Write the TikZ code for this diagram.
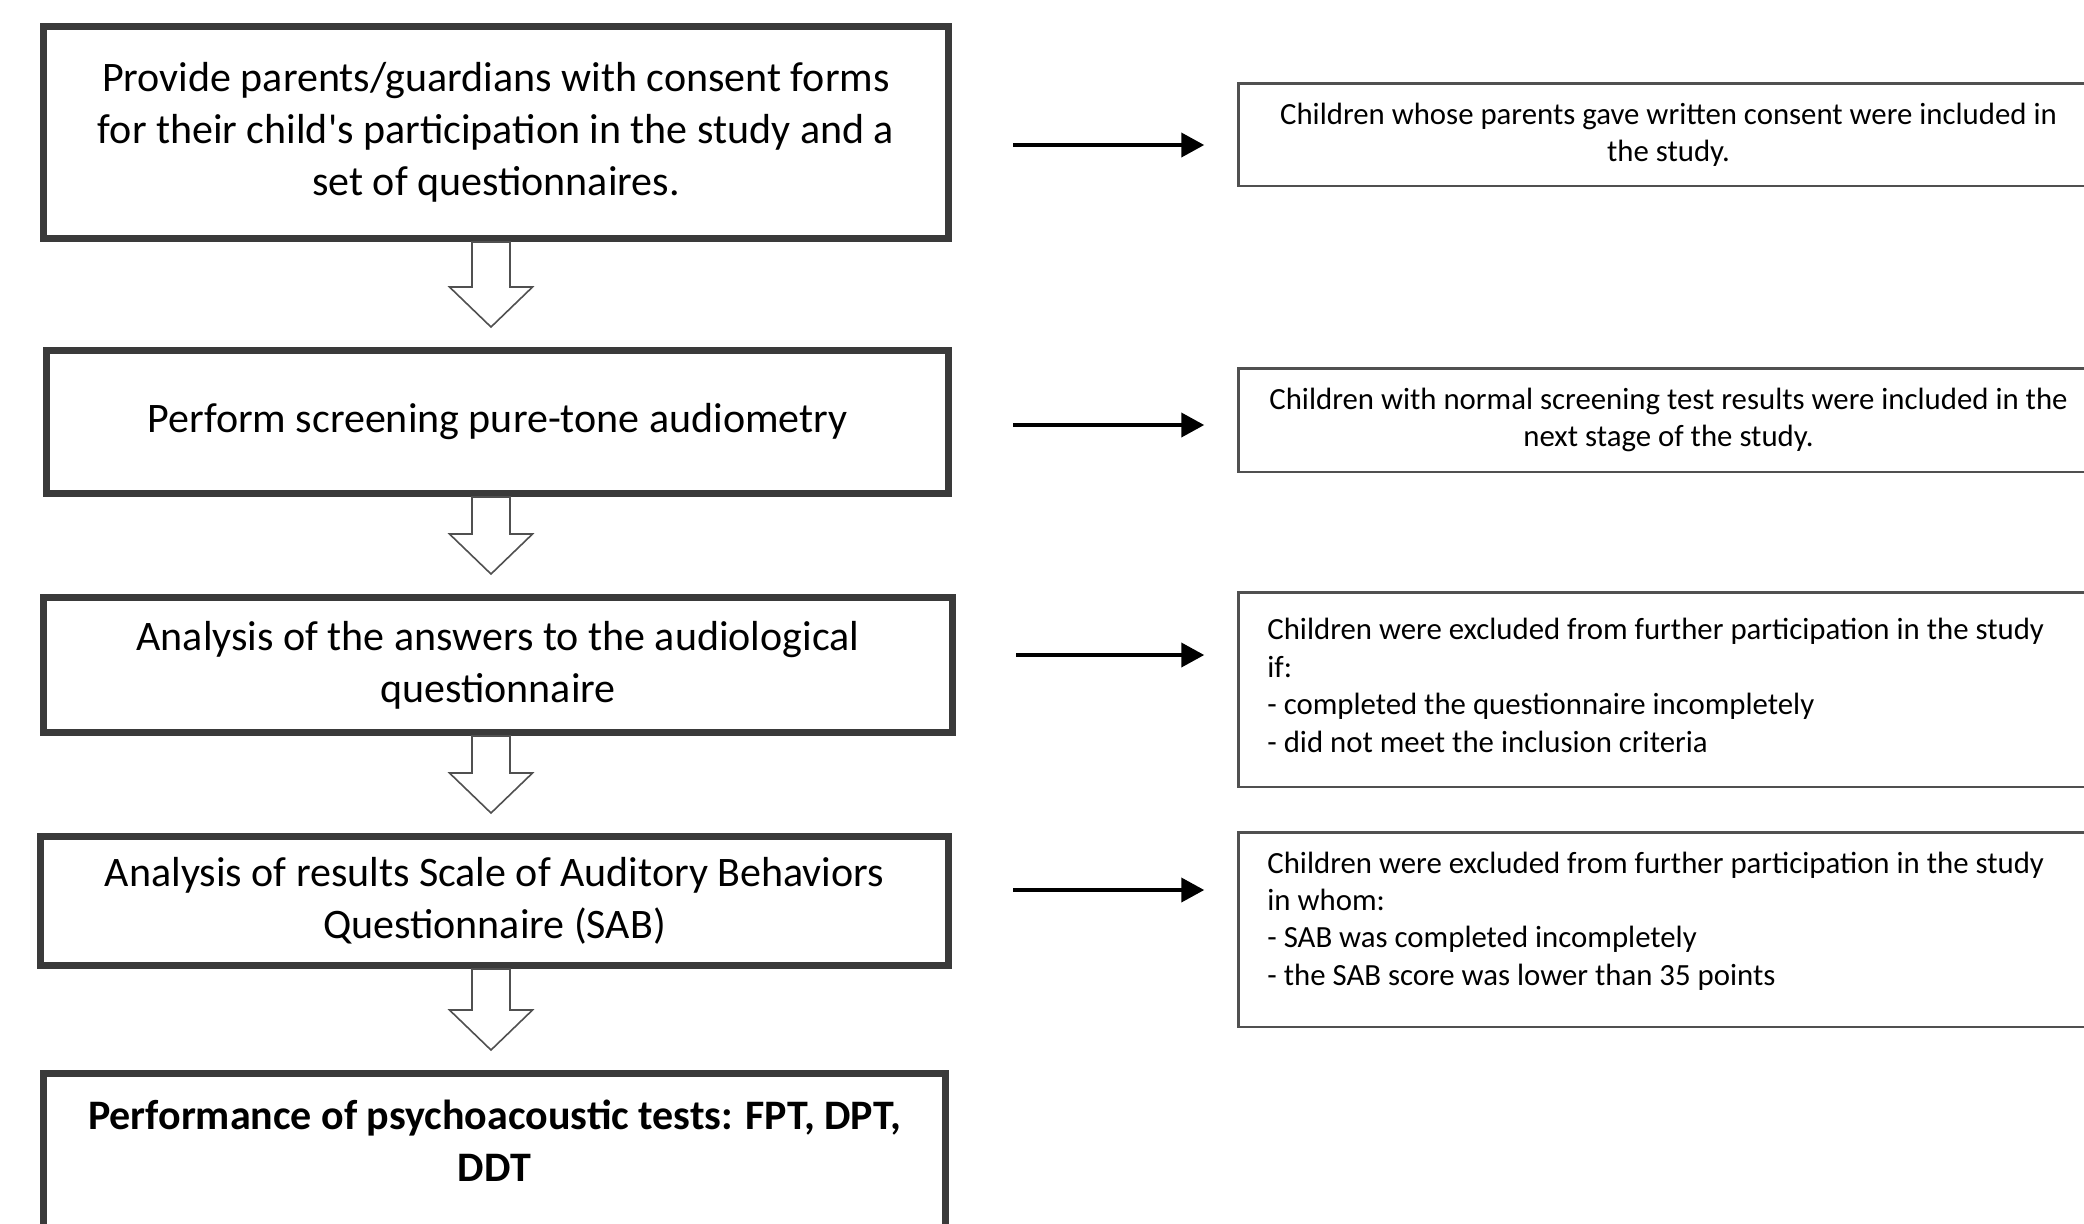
\documentclass[tikz,border=0pt]{standalone}
\usepackage{fontspec}
\setmainfont{Carlito}[Ligatures=TeXOff]
\usetikzlibrary{arrows.meta,calc}
\definecolor{boxgray}{HTML}{3A3A3A}
\definecolor{sidegray}{HTML}{505050}
\definecolor{arrowgray}{HTML}{505050}
\newcommand\flowdown[2]{%
  \path[blockarrow] let \p1=(#1.south), \p2=(#2.north), \n1={\y2+10pt}, \n2={\y2+30pt} in
    (236pt,\y1) -- (236pt,\n2) -- (224.75pt,\n2) -- (245.5pt,\n1) -- (266.25pt,\n2) -- (255pt,\n2) -- (255pt,\y1) -- cycle;}
\begin{document}
\begin{tikzpicture}[x=0.5pt,y=-0.5pt,
  mainbox/.style={draw=boxgray, line width=3.5pt, inner sep=0pt, align=center, font=\fontsize{21}{26}\selectfont},
  sidebox/.style={draw=sidegray, line width=1.25pt, inner sep=0pt, align=center, font=\fontsize{15.4}{18.5}\selectfont},
  sidetext/.style={inner sep=0pt, align=left, anchor=west, font=\fontsize{15.4}{18.7}\selectfont},
  sidearrow/.style={line width=2pt, shorten >=16.5pt, -{Triangle[length=11.5pt,width=12pt]}},
  blockarrow/.style={draw=arrowgray, line width=0.8pt, fill=white}]
\useasboundingbox (0,0) rectangle (2084,1223);
\clip (0,0) rectangle (2084,1223);
\fill[white] (0,0) rectangle (2084,1223);

% main column
\node[mainbox, minimum width=452.5pt, minimum height=106pt] (b1) at (496,132.5)
  {Provide parents/guardians with consent forms\\for their child's participation in the study and a\\set of questionnaires.};
\node[mainbox, minimum width=451pt, minimum height=71.5pt] (b2) at (497.5,422)
  {Perform screening pure-tone audiometry};
\node[mainbox, minimum width=454.5pt, minimum height=67.5pt] (b3) at (498,665)
  {Analysis of the answers to the audiological\\questionnaire};
\node[mainbox, minimum width=454pt, minimum height=64.5pt] (b4) at (494.5,901)
  {Analysis of results Scale of Auditory Behaviors\\Questionnaire (SAB)};
\node[mainbox, minimum width=451pt, minimum height=81.5pt] (b5) at (494.5,1155) {};
\node[inner sep=0pt, align=center, font=\fontsize{21}{26}\selectfont\bfseries] (b5t) at (494.5,1141)
  {Performance of psychoacoustic tests: FPT, DPT,\\DDT};

\flowdown{b1}{b2}
\flowdown{b2}{b3}
\flowdown{b3}{b4}
\flowdown{b4}{b5}

% side column
\node[sidebox, minimum width=430pt, minimum height=51.25pt] (r1) at (1668.5,134.5)
  {Children whose parents gave written consent were included in\\the study.};
\node[sidebox, minimum width=430pt, minimum height=51.75pt] (r2) at (1668.5,420)
  {Children with normal screening test results were included in the\\next stage of the study.};
\node[sidebox, minimum width=430pt, minimum height=97.25pt] (r3) at (1668.5,689.5) {};
\node[sidetext] (r3t) at (1267,685.5)
  {Children were excluded from further participation in the study\\if:\\- completed the questionnaire incompletely\\- did not meet the inclusion criteria};
\node[sidebox, minimum width=430pt, minimum height=97.25pt] (r4) at (1668.5,929.5) {};
\node[sidetext] (r4t) at (1267,921)
  {Children were excluded from further participation in the study\\in whom:\\- SAB was completed incompletely\\- the SAB score was lower than 35 points};

% side arrows
\coordinate (s1) at (1013,145);
\coordinate (s2) at (1013,425);
\coordinate (s3) at (1016,655);
\coordinate (s4) at (1013,890);
\draw[sidearrow] (s1) -- (s1 -| r1.west);
\draw[sidearrow] (s2) -- (s2 -| r2.west);
\draw[sidearrow] (s3) -- (s3 -| r3.west);
\draw[sidearrow] (s4) -- (s4 -| r4.west);
\end{tikzpicture}
\end{document}
